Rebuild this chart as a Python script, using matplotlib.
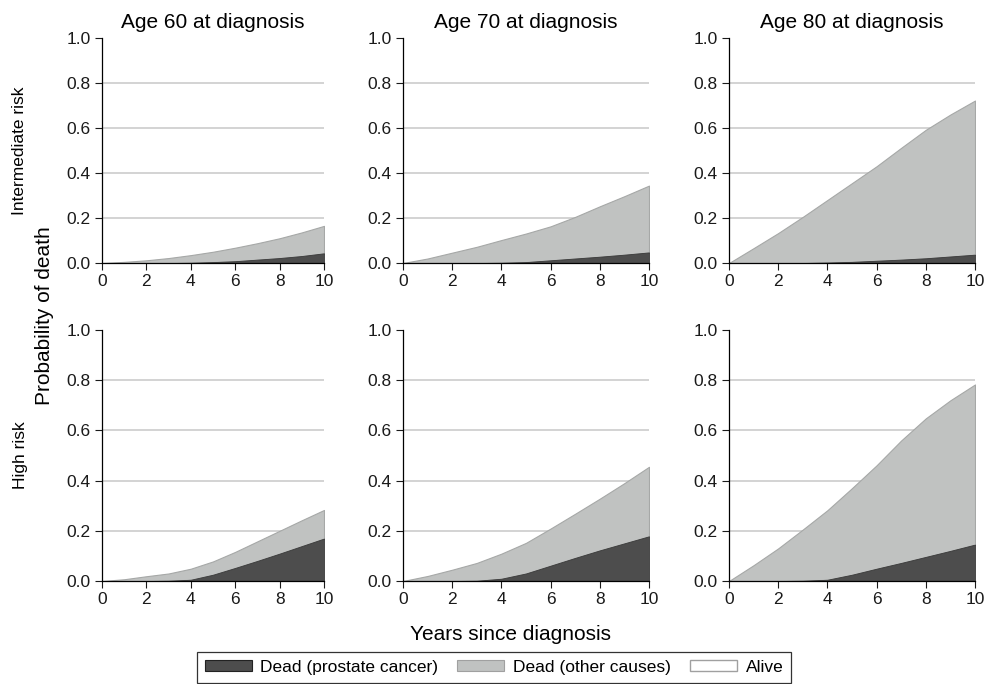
import numpy as np
import matplotlib
matplotlib.use("Agg")
import matplotlib.pyplot as plt
from matplotlib.patches import Patch

plt.rcParams["font.family"] = ["Liberation Sans", "DejaVu Sans"]

years = [0, 1, 2, 3, 4, 5, 6, 7, 8, 9, 10]
ages = ["Age 60 at diagnosis", "Age 70 at diagnosis", "Age 80 at diagnosis"]
risks = ["Intermediate risk", "High risk"]

# cumulative probability of death, prostate cancer (bottom band)
pc_int_60 = [0, 0, 0, 0, 0.001, 0.004, 0.008, 0.015, 0.022, 0.031, 0.043]
pc_int_70 = [0, 0, 0, 0, 0.001, 0.004, 0.012, 0.020, 0.028, 0.037, 0.047]
pc_int_80 = [0, 0, 0, 0, 0.002, 0.005, 0.010, 0.015, 0.021, 0.029, 0.037]
pc_high_60 = [0, 0, 0, 0.001, 0.005, 0.025, 0.052, 0.080, 0.109, 0.139, 0.169]
pc_high_70 = [0, 0, 0, 0.001, 0.009, 0.030, 0.061, 0.092, 0.122, 0.150, 0.178]
pc_high_80 = [0, 0, 0, 0.001, 0.005, 0.025, 0.049, 0.072, 0.096, 0.120, 0.145]

# cumulative probability of death, all causes (top of grey band)
all_int_60 = [0, 0.005, 0.012, 0.022, 0.035, 0.050, 0.068, 0.088, 0.110, 0.136, 0.165]
all_int_70 = [0, 0.020, 0.046, 0.072, 0.102, 0.131, 0.163, 0.205, 0.252, 0.297, 0.344]
all_int_80 = [0, 0.066, 0.133, 0.205, 0.280, 0.355, 0.430, 0.512, 0.592, 0.660, 0.722]
all_high_60 = [0, 0.007, 0.019, 0.030, 0.049, 0.078, 0.116, 0.158, 0.200, 0.242, 0.283]
all_high_70 = [0, 0.020, 0.045, 0.072, 0.109, 0.152, 0.209, 0.268, 0.328, 0.390, 0.455]
all_high_80 = [0, 0.063, 0.130, 0.205, 0.282, 0.370, 0.461, 0.560, 0.648, 0.720, 0.783]

prostate = [[pc_int_60, pc_int_70, pc_int_80], [pc_high_60, pc_high_70, pc_high_80]]
total = [[all_int_60, all_int_70, all_int_80], [all_high_60, all_high_70, all_high_80]]

dark = "#4d4d4d"
light = "#c0c2c1"
light_edge = "#a6a8a7"
grid_c = "#c8c8c8"

W, H = 986, 684
fig = plt.figure(figsize=(W / 100, H / 100), dpi=100)

col_left = [102, 403, 729]
col_width = [222, 246, 246]
row_top = [38, 330]
row_height = [225, 251]

for r in range(2):
    for c in range(3):
        ax = fig.add_axes([col_left[c] / W, 1 - (row_top[r] + row_height[r]) / H,
                           col_width[c] / W, row_height[r] / H])
        x = np.array(years)
        p = np.array(prostate[r][c])
        t = np.array(total[r][c])
        ax.fill_between(x, p, t, facecolor=light, edgecolor=light_edge, linewidth=0.8, zorder=2)
        ax.fill_between(x, 0, p, facecolor=dark, edgecolor="#3a3a3a", linewidth=0.6, zorder=3)
        for g in [0.2, 0.4, 0.6, 0.8]:
            ax.axhline(g, color=grid_c, linewidth=1.1, zorder=1)
        ax.set_xlim(0, 10)
        ax.set_ylim(0, 1)
        ax.set_xticks([0, 2, 4, 6, 8, 10])
        ax.set_yticks([0, 0.2, 0.4, 0.6, 0.8, 1.0])
        ax.set_yticklabels(["0.0", "0.2", "0.4", "0.6", "0.8", "1.0"])
        ax.tick_params(length=5, width=0.8, pad=3, labelsize=12.5, colors="#1a1a1a")
        for s in ["top", "right"]:
            ax.spines[s].set_visible(False)
        for s in ["left", "bottom"]:
            ax.spines[s].set_linewidth(0.9)
            ax.spines[s].set_zorder(5)
        if r == 0:
            ax.set_title(ages[c], fontsize=15, pad=7)
        if c == 0:
            fig.text(20 / W, 1 - (row_top[r] + row_height[r] / 2) / H, risks[r],
                     rotation=90, ha="center", va="center", fontsize=12.5)

fig.text(45 / W, 1 - 316 / H, "Probability of death", rotation=90,
         ha="center", va="center", fontsize=15)
fig.text(511 / W, 1 - 634 / H, "Years since diagnosis", ha="center", va="center", fontsize=15)

handles = [
    Patch(facecolor=dark, edgecolor="#222222", linewidth=0.8, label="Dead (prostate cancer)"),
    Patch(facecolor=light, edgecolor="#a0a0a0", linewidth=0.8, label="Dead (other causes)"),
    Patch(facecolor="white", edgecolor="#a0a0a0", linewidth=1.0, label="Alive"),
]
leg = fig.legend(handles=handles, ncol=3, loc="upper left",
                 bbox_to_anchor=(197 / W, 1 - 652 / H), borderaxespad=0,
                 fontsize=12.5, frameon=True, fancybox=False, edgecolor="black",
                 handlelength=2.7, handleheight=0.6, handletextpad=0.5,
                 columnspacing=1.1, borderpad=0.45)
leg.get_frame().set_linewidth(0.9)

fig.savefig("out.png", dpi=100)
